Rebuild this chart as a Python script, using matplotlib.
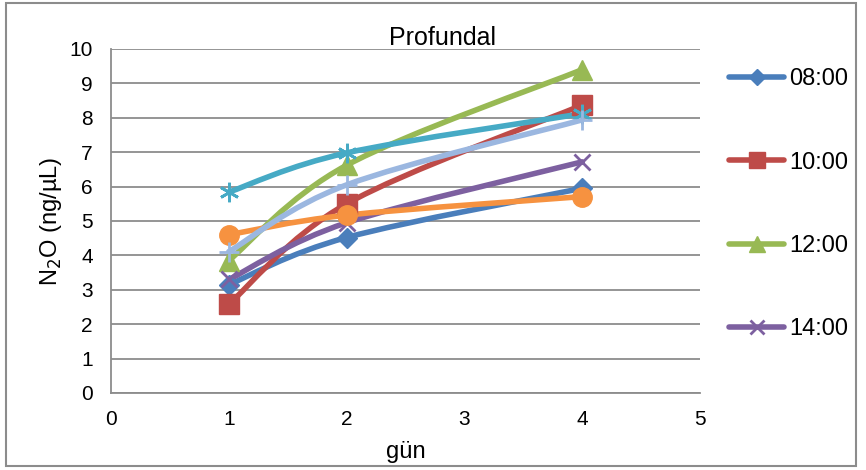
import matplotlib
matplotlib.use("Agg")
import matplotlib.pyplot as plt
from matplotlib.path import Path
from matplotlib.patches import PathPatch, Rectangle
from matplotlib.lines import Line2D
import numpy as np

plt.rcParams['font.family'] = ['Liberation Sans', 'DejaVu Sans']

days = [1, 2, 4]
series_names = ["08:00", "10:00", "12:00", "14:00", "16:00", "18:00", "20:00"]
v0800 = [3.15, 4.52, 5.95]
v1000 = [2.58, 5.5, 8.37]
v1200 = [3.85, 6.62, 9.4]
v1400 = [3.3, 4.95, 6.72]
v1600 = [5.84, 6.98, 8.12]
v1800 = [4.6, 5.17, 5.71]
v2000 = [4.11, 6.05, 7.94]
values = [v0800, v1000, v1200, v1400, v1600, v1800, v2000]
legend_names = ["08:00", "10:00", "12:00", "14:00"]

colors = ["#4A7EBB", "#BE4B48", "#98B954", "#7D60A0", "#46AAC5", "#F69240", "#9BB7E0"]
markers = ["D", "s", "^", "x", (6, 2, 0), "o", "+"]
msizes = [10, 14, 14, 12, 14, 14, 15]

fig = plt.figure(figsize=(8.66, 4.70), dpi=100)
ax = fig.add_axes([111/866, 1-393/470, (700-111)/866, (393-49)/470])

def smooth_path(xs, ys):
    pts = np.column_stack([xs, ys]).astype(float)
    n = len(pts)
    verts = [pts[0]]
    codes = [Path.MOVETO]
    for i in range(n - 1):
        p0 = pts[i - 1] if i > 0 else pts[i]
        p1 = pts[i]
        p2 = pts[i + 1]
        p3 = pts[i + 2] if i + 2 < n else pts[i + 1]
        c1 = p1 + (p2 - p0) / 6.0
        c2 = p2 - (p3 - p1) / 6.0
        verts += [c1, c2, p2]
        codes += [Path.CURVE4] * 3
    return Path(verts, codes)

for name, vals, c, m, ms in zip(series_names, values, colors, markers, msizes):
    patch = PathPatch(smooth_path(days, vals), facecolor='none', edgecolor=c,
                      lw=4.0, capstyle='round', joinstyle='round', zorder=3)
    ax.add_patch(patch)
    mew = 2.0 if m in ("x", "+") or isinstance(m, tuple) else 1
    ax.plot(days, vals, linestyle='none', marker=m, color=c, markersize=ms,
            markeredgewidth=mew, markeredgecolor=c, zorder=4)

ax.set_xlim(0, 5)
ax.set_ylim(0, 10)
ax.set_xticks(range(0, 6))
ax.set_yticks(range(0, 11))
ax.yaxis.grid(True, color='#8C8C8C', lw=1.3)
ax.set_axisbelow(True)
for s in ['top', 'right']:
    ax.spines[s].set_visible(False)
for s in ['left', 'bottom']:
    ax.spines[s].set_color('#8C8C8C')
    ax.spines[s].set_linewidth(1.3)
ax.tick_params(axis='both', labelsize=15, length=0)
ax.tick_params(axis='y', pad=13)
ax.tick_params(axis='x', pad=12)
ax.set_xlabel("gün", fontsize=17, labelpad=9)
ax.set_ylabel("N$_2$O (ng/µL)", fontsize=17, labelpad=4)

fig.text(443/866, 1-38/470, "Profundal", fontsize=18, ha='center', va='center')

handles = [Line2D([0], [0], color=colors[i], lw=4.0, marker=markers[i],
                  markersize=msizes[i] * 0.85, markeredgewidth=2 if markers[i] == "x" else 1,
                  solid_capstyle='round')
           for i in range(4)]
leg = fig.legend(handles, legend_names, loc='upper left',
                 bbox_to_anchor=(708/866, 1-47/470), frameon=False,
                 fontsize=17, labelspacing=2.6, handlelength=2.33, handletextpad=0.2)

fig.add_artist(Rectangle((6/866, 4/470), 850/866, 463/470, transform=fig.transFigure,
                         fill=False, edgecolor='#8C8C8C', lw=1.5))

fig.savefig("out.png", dpi=100)
